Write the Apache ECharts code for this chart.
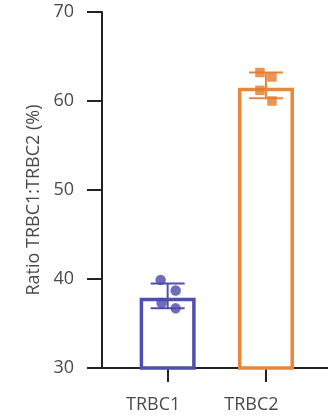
<!DOCTYPE html>
<html><head><meta charset="utf-8">
<script src="https://cdn.jsdelivr.net/npm/echarts@6/dist/echarts.min.js"></script>
<style>html,body{margin:0;padding:0;background:#fff}#c{width:328px;height:417px}</style>
</head><body><div id="c"></div>
<script>
const categories = ['TRBC1', 'TRBC2'];
const barMeans = [37.9, 61.5];
const errLow = [36.7, 60.3];
const errHigh = [39.5, 63.2];
const trbc1Points = [39.9, 38.7, 37.3, 36.7];
const trbc2Points = [63.2, 62.7, 61.2, 60.0];
const yTicks = [30, 40, 50, 60, 70];
const yAxisTitle = 'Ratio TRBC1:TRBC2 (%)';

const colors = ['#4f4fae', '#e8863a'];
const pointColors = ['#4a48ab', '#e37a2c'];
const jitter1 = [[-7, 0], [8, 0], [-6, 0], [8, 0]];
const jitter2 = [[-6, 0], [6, 0], [-6, 0], [6, 0]];
const font = '"Open Sans", sans-serif';

const chart = echarts.init(document.getElementById('c'));
chart.setOption({
  animation: false,
  grid: [
    {left: 118.5, right: 12.9, top: 12, bottom: 49},
    {left: 102, right: 0, top: 12, bottom: 49}
  ],
  xAxis: [
    {type: 'category', data: categories, gridIndex: 0,
     axisLine: {show: false},
     axisTick: {show: true, alignWithLabel: true, length: 14, lineStyle: {color: '#222', width: 2}},
     axisLabel: {margin: 28, fontSize: 18, color: '#4a4a4a', fontFamily: font, padding: [0, 29, 0, 0]}},
    {type: 'value', gridIndex: 1, min: 0, max: 1,
     axisLine: {show: true, onZero: false, lineStyle: {color: '#222', width: 2}},
     axisTick: {show: false}, axisLabel: {show: false}, splitLine: {show: false}}
  ],
  yAxis: [
    {type: 'value', gridIndex: 0, min: yTicks[0], max: yTicks[yTicks.length - 1], interval: 10, offset: 16.5,
     name: yAxisTitle, nameLocation: 'middle', nameGap: 58,
     nameTextStyle: {fontSize: 18, color: '#4a4a4a', fontFamily: font, padding: [0, 20, 0, 0]},
     axisLine: {show: true, onZero: false, lineStyle: {color: '#222', width: 2}},
     axisTick: {show: true, length: 15, lineStyle: {color: '#222', width: 2}},
     axisLabel: {margin: 28, fontSize: 18, color: '#4a4a4a', fontFamily: font},
     splitLine: {show: false}},
    {type: 'value', gridIndex: 1, min: 0, max: 1, show: false}
  ],
  series: [
    {type: 'bar', xAxisIndex: 0, yAxisIndex: 0, barWidth: 56,
     data: barMeans.map((v, i) => ({value: v, itemStyle: {color: '#fff', borderColor: colors[i], borderWidth: 3.5}}))},
    {type: 'custom', xAxisIndex: 0, yAxisIndex: 0, z: 5,
     data: categories.map((c, i) => [i, errLow[i], errHigh[i]]),
     renderItem: function (params, api) {
       const x = api.coord([api.value(0), api.value(1)])[0];
       const lo = api.coord([api.value(0), api.value(1)])[1];
       const hi = api.coord([api.value(0), api.value(2)])[1];
       const hw = 17;
       const c = colors[params.dataIndex];
       const st = {stroke: c, lineWidth: 2};
       return {type: 'group', children: [
         {type: 'line', shape: {x1: x, y1: lo, x2: x, y2: hi}, style: st},
         {type: 'line', shape: {x1: x - hw, y1: lo, x2: x + hw, y2: lo}, style: st},
         {type: 'line', shape: {x1: x - hw, y1: hi, x2: x + hw, y2: hi}, style: st}
       ]};
     }},
    {type: 'scatter', xAxisIndex: 0, yAxisIndex: 0, z: 6, symbol: 'circle', symbolSize: 10.5,
     itemStyle: {color: pointColors[0]},
     data: trbc1Points.map((v, i) => ({value: [categories[0], v], symbolOffset: jitter1[i]}))},
    {type: 'scatter', xAxisIndex: 0, yAxisIndex: 0, z: 6, symbol: 'rect', symbolSize: 9.5,
     itemStyle: {color: pointColors[1]},
     data: trbc2Points.map((v, i) => ({value: [categories[1], v], symbolOffset: jitter2[i]}))}
  ]
});
</script></body></html>
